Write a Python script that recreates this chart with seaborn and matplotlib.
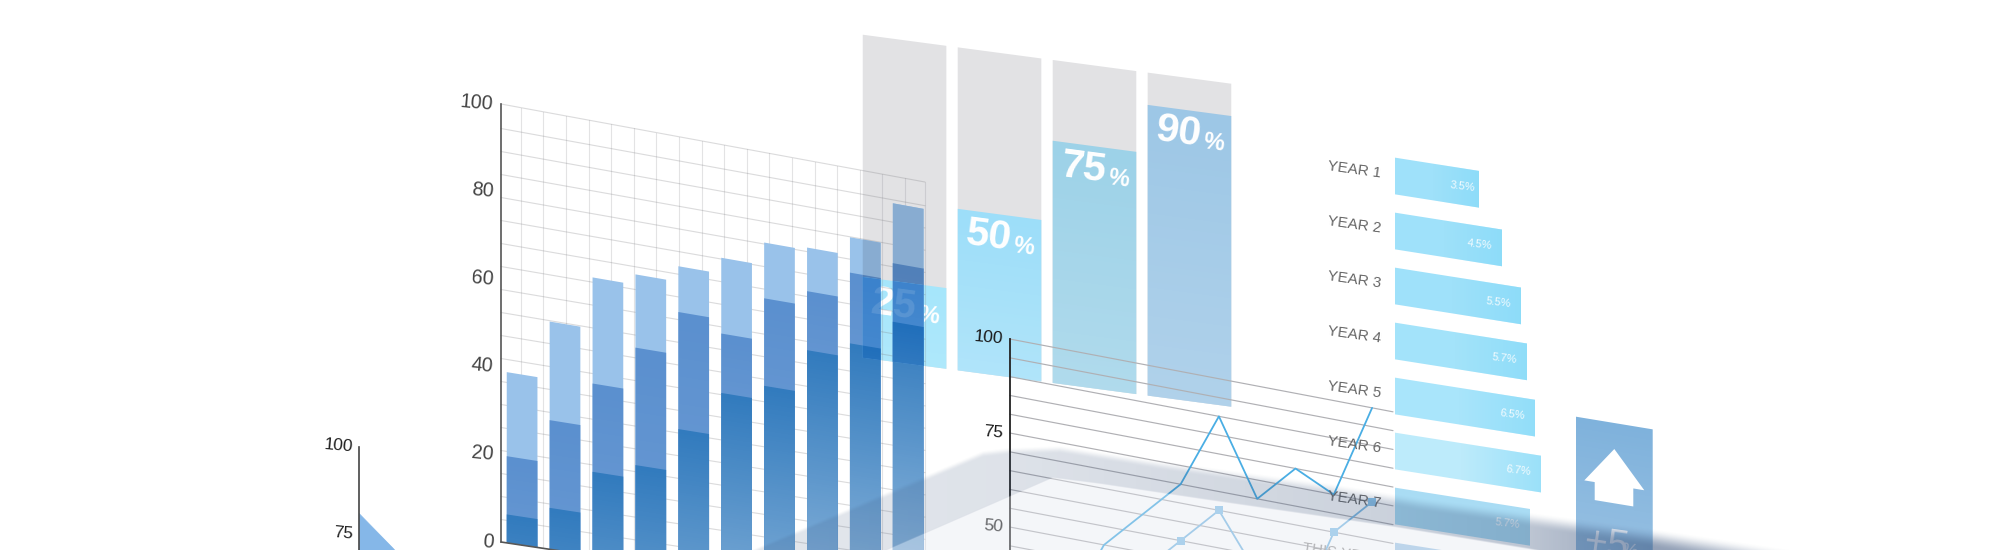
import numpy as np
import pandas as pd
import matplotlib
matplotlib.use("Agg")
import matplotlib.pyplot as plt
import matplotlib.font_manager as fm
from matplotlib.colors import to_rgb
from matplotlib.path import Path
from matplotlib.patches import Polygon
from matplotlib.transforms import Transform, IdentityTransform
import seaborn as sns

# ---------- data ----------
stack_x = list(range(10))
stack_top = [39.0, 52.2, 64.0, 66.4, 70.0, 73.7, 79.0, 79.6, 83.8, 93.6]
stack_mid = [19.8, 29.6, 39.6, 49.5, 59.4, 56.1, 66.0, 69.4, 75.5, 79.5]
stack_low = [6.5, 9.5, 19.3, 22.4, 32.3, 42.3, 45.6, 55.6, 58.9, 65.7]
stack_ticks = [0, 20, 40, 60, 80, 100]

pct_values = [25, 50, 75, 90]
pct_full = [100, 100, 100, 100]
pct_colors = ["#A6E6FB", "#9DDEF9", "#9DD2E8", "#9DC7E6"]

line_x = list(range(10))
line_one = [20, 30, 50, 60, 70, 90, 70, 80, 75, 100]
line_two = [10, 20, 30, 45, 55, 65, 50, 40, 65, 75]
line_ticks = [50, 75, 100]

year_labels = ["YEAR 1", "YEAR 2", "YEAR 3", "YEAR 4", "YEAR 5", "YEAR 6", "YEAR 7", "THIS YEAR"]
year_text = ["3.5%", "4.5%", "5.5%", "5.7%", "6.5%", "6.7%", "5.7%", ""]
year_lengths = [84, 107, 126, 132, 140, 146, 135, 150]
year_colors = ["#9FE1FA", "#9FE1FA", "#9FE1FA", "#A3E3FA", "#A9E5FB", "#BDEBFB", "#A9DCF4", "#A6CBE9"]

area_x = [0, 10, 20]
area_y = [81, 71, 60]
area_ticks = [50, 75, 100]

panel_value = [233.3]
arrow_x = [38.3, 68.3, 57.3, 57.3, 18.7, 18.7, 8.3]
arrow_y = [207.3, 171, 171, 153, 153, 171, 171]

# ---------- set-up ----------
sns.set_theme(style="white")
W, H = 2000, 550
names = {f.name for f in fm.fontManager.ttflist}
NARROW = "Liberation Sans Narrow" if "Liberation Sans Narrow" in names else "Liberation Sans"
NS = 1.0 if NARROW == "Liberation Sans Narrow" else 0.84
plt.rcParams["font.family"] = ["Liberation Sans", "DejaVu Sans"]

fig = plt.figure(figsize=(W / 100, H / 100), dpi=100, facecolor="white")


class Keystone(Transform):
    """Tilts an axes in display space; verticals stay vertical."""
    input_dims = output_dims = 2
    is_separable = False
    has_inverse = False

    def __init__(self, x0, k_bottom, k_top=None, y_bottom=0.0, y_top=1.0):
        super().__init__()
        self.x0, self.kb = x0, k_bottom
        self.kt = k_bottom if k_top is None else k_top
        self.yb, self.yt = y_bottom, y_top

    def transform_non_affine(self, xy):
        xy = np.asarray(xy, dtype=float)
        k = self.kb + (self.kt - self.kb) * (xy[:, 1] - self.yb) / (self.yt - self.yb)
        return np.column_stack([xy[:, 0], xy[:, 1] - (xy[:, 0] - self.x0) * k])

    def transform_path_non_affine(self, path):
        return Path(self.transform_non_affine(path.vertices), path.codes)


def px_axes(left, top, right, bottom, z):
    ax = fig.add_axes([left / W, 1 - bottom / H, (right - left) / W, (bottom - top) / H],
                      facecolor="none", zorder=z)
    for s in ax.spines.values():
        s.set_visible(False)
    ax.grid(False)
    return ax


def tilt(patches, tr):
    for p in patches:
        p.set_transform(tr)
        p.set_clip_on(False)
        p.set_edgecolor("none")
        p.set_linewidth(0)


def bars(ax, tr, color, **kw):
    """Draw through seaborn, then tilt each new patch."""
    first = len(ax.patches)
    sns.barplot(errorbar=None, saturation=1, color=color, ax=ax, native_scale=True, **kw)
    new = ax.patches[first:]
    tilt(new, tr)
    return new


layers = {}


def fade(z, tr, x0, x1, y0, y1, color, a0, a1, axis="y"):
    """Soft gradient over a rectangle of data space, rasterised through the tilt."""
    arr = layers.setdefault(z, np.zeros((H, W, 4)))
    left, right = tr.transform([[x0, y0], [x1, y0]])[:, 0]
    cols = np.arange(max(0, int(np.floor(left))), min(W, int(np.ceil(right))))
    if not len(cols):
        return
    xd = x0 + (cols + 0.5 - left) / (right - left) * (x1 - x0)
    yd0 = tr.transform(np.column_stack([xd, np.full_like(xd, y0)]))[:, 1]
    yd1 = tr.transform(np.column_stack([xd, np.full_like(xd, y1)]))[:, 1]
    Yd = (H - np.arange(H) - 0.5)[:, None]
    lo, hi = np.minimum(yd0, yd1), np.maximum(yd0, yd1)
    cover = np.clip(Yd - lo + 0.5, 0, 1) * np.clip(hi - Yd + 0.5, 0, 1)
    cover = cover * np.clip(cols + 1 - left, 0, 1) * np.clip(right - cols, 0, 1)
    if axis == "y":
        t = np.clip((Yd - yd0) / (yd1 - yd0), 0, 1)
    else:
        t = np.tile((cols + 0.5 - left) / (right - left), (H, 1))
    alpha = (a0 + (a1 - a0) * t) * cover
    rgb = to_rgb(color)
    sub = arr[:, cols]
    mask = alpha > 0
    for ch in range(3):
        sub[..., ch][mask] = rgb[ch]
    sub[..., 3][mask] = alpha[mask]
    arr[:, cols] = sub


def mult(c, m):
    return tuple(a * b for a, b in zip(to_rgb(c), to_rgb(m)))


def ticks(ax, vals, color, size, pad, rot=-5):
    ax.set_yticks(vals)
    ax.set_yticklabels([str(v) for v in vals], fontfamily=NARROW, fontsize=size * NS, color=color,
                       rotation=rot, rotation_mode="anchor", va="center", ha="right")
    ax.tick_params(axis="y", length=0, pad=pad, left=False)
    ax.set_xticks([])
    ax.set_xlabel("")
    ax.set_ylabel("")
    ax.spines["left"].set_visible(True)


def clean(ax):
    ax.set_xticks([]); ax.set_yticks([]); ax.set_xlabel(""); ax.set_ylabel("")


# ---------- percentage panels (behind the stacked bars) ----------
ax2 = px_axes(862.7, 34.7, 1240, 357.7, 1)
sx = 94.97  # column pitch in pixels
xl2 = (-41.85 / sx, (1240 - 904.55) / sx)
tr2 = ax2.transData + Keystone(862.7, 0.133)
ax2.set_xlim(*xl2); ax2.set_ylim(0, 100)
df2 = pd.DataFrame({"col": range(4), "full": pct_full, "val": pct_values})
bars(ax2, tr2, "#E2E2E4", x="col", y="full", data=df2, width=83.6 / sx)
for i, c in enumerate(pct_colors):
    bars(ax2, tr2, c, data=df2.iloc[[i]], x="col", y="val", width=83.6 / sx)
ax2.set_xlim(*xl2); ax2.set_ylim(0, 100)
clean(ax2)
hw = 41.8 / sx
for i, v in enumerate(pct_values):
    fade(1.5, tr2, i - hw, i + hw, v, 0, "white", 0, 0.2 if i else 0.1)
    ax2.text(i - hw + 31 / sx, v - 7.3, str(v), transform=tr2, color="white", fontsize=29.5,
             fontweight="bold", ha="center", va="center", rotation=-7.6, rotation_mode="anchor", zorder=7)
    ax2.text(i - hw + 66 / sx, v - 9.2, "%", transform=tr2, color="white", fontsize=17,
             fontweight="bold", ha="center", va="center", rotation=-7.6, rotation_mode="anchor", zorder=7)

# ---------- stacked bars with grid ----------
ax1 = px_axes(501, 104, 925, 542, 2)
tr1 = ax1.transData + Keystone(501, 0.150, 0.184, H - 542, H - 104)
pitch = 42.9
xl1 = ((501 - 522.1) / pitch, (925 - 522.1) / pitch)
ax1.set_xlim(*xl1); ax1.set_ylim(0, 100)

grid_v = [xl1[0] + (19.7 + 22.6 * k) / pitch for k in range(18)] + [xl1[1]]
grid_h = [100] + [100 - (24.5 + 23.0 * k) * 100 / 438 for k in range(18)]
for gx in grid_v:
    ax1.plot([gx, gx], [0, 100], color="#8A8A92", alpha=0.24, lw=0.8, transform=tr1, clip_on=False, zorder=1)
for gy in grid_h:
    ax1.plot(xl1, [gy, gy], color="#7A7A7E", alpha=0.27, lw=0.8, transform=tr1, clip_on=False, zorder=1)

df1 = pd.DataFrame({"x": stack_x, "top": stack_top, "mid": stack_mid, "low": stack_low})
C_LIGHT, C_MID, C_DARK = "#99C2EA", "#5B90CF", "#327BBE"
BW = 30.7 / pitch
for col, c in zip(["top", "mid", "low"], [C_LIGHT, C_MID, C_DARK]):
    for p in bars(ax1, tr1, c, data=df1, x="x", y=col, width=BW):
        p.set_zorder(2)
ax1.set_xlim(*xl1); ax1.set_ylim(0, 100)

# overlaps with the panels behind act like a multiply blend
corner = lambda xs, ys: tr2.transform(np.column_stack([xs, ys]))
grey_poly = corner([-hw, hw, hw, -hw], [100, 100, 25, 25])
cyan_poly = corner([-hw, hw, hw, -hw], [25, 25, 0, 0])
for poly, tint in [(grey_poly, "#E2E2E4"), (cyan_poly, "#A6E6FB")]:
    clip = Path(np.vstack([poly, poly[:1]]))
    for col, c in zip(["top", "mid", "low"], [C_LIGHT, C_MID, C_DARK]):
        for p in bars(ax1, tr1, mult(c, tint), data=df1, x="x", y=col, width=BW):
            p.set_clip_on(True)
            p.set_clip_path(clip, IdentityTransform())
            p.set_zorder(3)
ax1.set_xlim(*xl1); ax1.set_ylim(0, 100)

for x, v in zip(stack_x, stack_low):
    fade(2.5, tr1, x - BW / 2, x + BW / 2, v, 0, "white", 0, v * 0.0075)
for x, lo, hi in zip(stack_x, stack_low, stack_mid):
    fade(2.5, tr1, x - BW / 2, x + BW / 2, hi, lo, "white", 0, 0.05)

ax1.plot(xl1, [0, 0], color="#555555", lw=1.2, transform=tr1, clip_on=False, zorder=7)
ax1.text(0 - hw + 31 / sx, 25 - 7.3, "25", transform=tr2, color="white", alpha=0.12, fontsize=29.5,
         fontweight="bold", ha="center", va="center", rotation=-7.6, rotation_mode="anchor", zorder=8)
ticks(ax1, stack_ticks, "#444444", 17, 5.5)
ax1.spines["left"].set_color("#555555")
ax1.spines["left"].set_linewidth(1.2)

# ---------- line chart ----------
ax3 = px_axes(1009.7, 339, 1393, 715, 3)
tr3 = ax3.transData + Keystone(1009.7, 0.19)
xl3 = ((1009.7 - 1027.4) / 38.3, (1393 - 1027.4) / 38.3)
ax3.set_xlim(*xl3); ax3.set_ylim(0, 100)
for gy in range(0, 101, 5):
    ax3.plot(xl3, [gy, gy], color="#B0B0B4", lw=0.85, transform=tr3, clip_on=False, zorder=1)
df3 = pd.DataFrame({"x": line_x, "one": line_one, "two": line_two})
sns.lineplot(data=df3, x="x", y="one", color="#4AAEE4", lw=1.3, ax=ax3, transform=tr3,
             clip_on=False, errorbar=None, zorder=3)
sns.lineplot(data=df3, x="x", y="two", color="#7FBCE6", lw=1.3, marker="s", markersize=6.2,
             markeredgewidth=0, markerfacecolor="#8BC4EA", ax=ax3, transform=tr3,
             clip_on=False, errorbar=None, zorder=3)
ax3.set_xlim(*xl3); ax3.set_ylim(0, 100)
ticks(ax3, line_ticks, "#1A1A1A", 15, 5)
ax3.spines["left"].set_color("#222222")
ax3.spines["left"].set_linewidth(1.3)

# ---------- horizontal year bars ----------
ax4 = px_axes(1395, 150, 1595, 600, 4)
tr4 = ax4.transData + Keystone(1395, 0.158)
yl4 = ((600 - 176) / 55, (150 - 176) / 55)
ax4.set_xlim(0, 200); ax4.set_ylim(*yl4)
df4 = pd.DataFrame({"row": range(8), "len": year_lengths})
bh = 36.7 / 55
for i, c in enumerate(year_colors):
    bars(ax4, tr4, c, data=df4.iloc[[i]], y="row", x="len", orient="y", width=bh)
ax4.set_xlim(0, 200); ax4.set_ylim(*yl4)
clean(ax4)
ax4t = px_axes(1395, 150, 1595, 600, 4.7)
ax4t.set_xlim(0, 200); ax4t.set_ylim(*yl4)
clean(ax4t)
tr4t = ax4t.transData + Keystone(1395, 0.158)
for i, (lab, txt, L) in enumerate(zip(year_labels, year_text, year_lengths)):
    if i < 6:
        fade(4.5, tr4, L * 0.45, L, i - bh / 2, i + bh / 2, "#7FD8F8", 0, 0.55, axis="x")
    tcol = "#666666" if i < 7 else "#999999"
    ax4t.text(-14, i, lab, transform=tr4t, ha="right", va="center", color=tcol,
              fontfamily=NARROW, fontsize=13 * NS, rotation=-8, rotation_mode="anchor")
    if txt:
        off = 17 if i == 0 else 22.5
        ax4t.text(L - off, i, txt, transform=tr4t, ha="center", va="center", color="white",
                  alpha=0.9, fontfamily=NARROW, fontsize=9.5 * NS, rotation=-7, rotation_mode="anchor")

# ---------- arrow panel ----------
ax5 = px_axes(1576, 416.7, 1652.7, 650, 4)
tr5 = ax5.transData + Keystone(1576, 0.165)
ax5.set_xlim(0, 76.7); ax5.set_ylim(0, panel_value[0])
bars(ax5, tr5, "#7FB2DC", x=[38.35], y=panel_value, width=76.7, orient="x")
ax5.set_xlim(0, 76.7); ax5.set_ylim(0, panel_value[0])
clean(ax5)
fade(4.5, tr5, 0, 76.7, panel_value[0], 90, "white", 0, 0.2)
ax5.add_patch(Polygon(np.column_stack([arrow_x, arrow_y]), closed=True, facecolor="white", edgecolor="none",
                      transform=tr5, clip_on=False, zorder=7))
ax5t = px_axes(1576, 416.7, 1652.7, 650, 4.7)
ax5t.set_xlim(0, 76.7); ax5t.set_ylim(0, panel_value[0])
clean(ax5t)
tr5t = ax5t.transData + Keystone(1576, 0.165)
ax5t.text(30, 110, "+5", transform=tr5t, color="#E8EEF6", fontfamily=NARROW, fontsize=34 * NS, ha="center",
          va="center", rotation=-8, rotation_mode="anchor")
ax5t.text(53, 107, "%", transform=tr5t, color="#E8EEF6", fontfamily=NARROW, fontsize=16 * NS, ha="center",
          va="center", rotation=-8, rotation_mode="anchor")

# ---------- area chart, bottom left ----------
ax0 = px_axes(358.7, 447, 500, 795, 2)
ax0.set_xlim(0, 141.3 / 3.4); ax0.set_ylim(0, 100)
ax0.fill_between(area_x, area_y, 0, color="#85B7E8", linewidth=0, zorder=2)
sns.lineplot(x=area_x, y=area_y, color="#85B7E8", lw=0.5, ax=ax0, errorbar=None)
ax0.set_xlim(0, 141.3 / 3.4); ax0.set_ylim(0, 100)
ticks(ax0, area_ticks, "#222222", 15, 4.5)
ax0.spines["left"].set_color("#444444")
ax0.spines["left"].set_linewidth(1.2)

# ---------- gradient layers ----------
for z, arr in layers.items():
    lay = fig.add_axes([0, 0, 1, 1], facecolor="none", zorder=z)
    lay.imshow(arr, extent=(0, W, H, 0), aspect="auto", interpolation="nearest")
    lay.set_xlim(0, W); lay.set_ylim(H, 0); lay.axis("off")

# ---------- translucent floor laid over everything ----------
top = fig.add_axes([0, 0, 1, 1], facecolor="none", zorder=10)
X, Y = np.meshgrid(np.arange(W) + 0.5, np.arange(H) + 0.5)
outer_x = [700, 750, 983, 1008, 1060, 1160, 1327, 1420, 1533, 1653, 1733, 1800, 1900]
outer_y = [572, 550, 450, 447, 445, 460, 482, 497, 512, 528, 540, 550, 565]
inner_x = [860, 883, 1053, 1100, 1200, 1393, 1527, 1560]
inner_y = [560, 550, 476, 482, 497, 525, 547, 553]
sstep = lambda t: (lambda u: u * u * (3 - 2 * u))(np.clip(t, 0, 1))
soft = np.interp(X, [700, 1100, 1500, 1800], [4, 9, 15, 24])
band = sstep((Y - np.interp(X, outer_x, outer_y)) / soft)
inner = sstep((Y - np.interp(X, inner_x, inner_y)) / 2.5)
a_band = np.interp(X, [700, 1000, 1200, 1400, 1530, 1650, 1760, 1900], [.14, .17, .22, .27, .34, .55, .55, .5])
rgba = np.zeros((H, W, 4))
c_band = np.array([60, 85, 125]) / 255
c_in = np.array([228, 232, 240]) / 255
for ch in range(3):
    rgba[..., ch] = c_band[ch] * (1 - inner) + c_in[ch] * inner
rgba[..., 3] = a_band * band * (1 - inner) + 0.38 * inner * band
top.imshow(rgba, extent=(0, W, H, 0), aspect="auto", interpolation="nearest")
top.set_xlim(0, W); top.set_ylim(H, 0); top.axis("off")

fig.savefig("out.png", dpi=100, facecolor="white")
